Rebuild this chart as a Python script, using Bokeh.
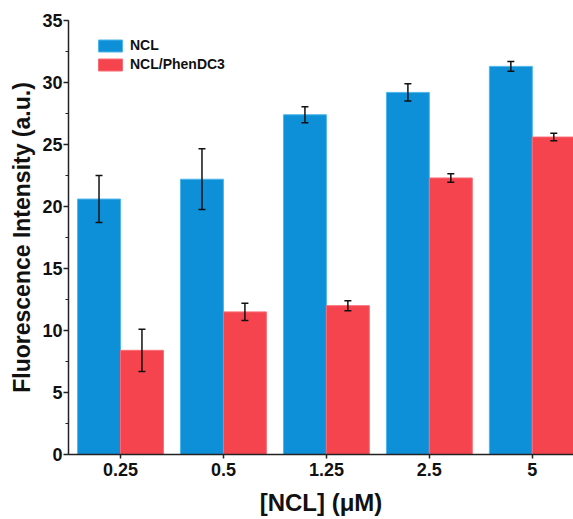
from bokeh.plotting import figure
from bokeh.models import (Range1d, FixedTicker, SingleIntervalTicker, Whisker, TeeHead,
                          ColumnDataSource, Legend, LegendItem)
from bokeh.embed import file_html
from bokeh.resources import INLINE

categories = ["0.25", "0.5", "1.25", "2.5", "5"]
ncl = [20.6, 22.2, 27.4, 29.2, 31.3]
ncl_err = [1.9, 2.45, 0.65, 0.7, 0.4]
phen = [8.4, 11.5, 12.0, 22.3, 25.6]
phen_err = [1.7, 0.7, 0.4, 0.35, 0.3]

BLUE = "#0e90d8"
RED = "#f6444f"
FONT = "Liberation Sans"
bar_w = 0.417
off = bar_w / 2

idx = list(range(len(categories)))
src_b = ColumnDataSource(dict(
    x=[i - off for i in idx], top=ncl,
    lo=[v - e for v, e in zip(ncl, ncl_err)], hi=[v + e for v, e in zip(ncl, ncl_err)]))
src_r = ColumnDataSource(dict(
    x=[i + off for i in idx], top=phen,
    lo=[v - e for v, e in zip(phen, phen_err)], hi=[v + e for v, e in zip(phen, phen_err)]))

p = figure(width=573, height=519, frame_width=505, frame_height=434,
           x_range=Range1d(-0.505, 4.40), y_range=Range1d(0, 35),
           min_border_left=68, min_border_right=0, min_border_top=20, min_border_bottom=65,
           output_backend="svg", toolbar_location=None)
p.outline_line_color = None
p.xgrid.grid_line_color = None
p.ygrid.grid_line_color = None
p.background_fill_color = "white"
p.border_fill_color = "white"

rb = p.vbar(x="x", top="top", bottom=0, width=bar_w, source=src_b,
            fill_color=BLUE, line_color="#4fb6ea", line_width=1)
rr = p.vbar(x="x", top="top", bottom=0, width=bar_w, source=src_r,
            fill_color=RED, line_color="#f86b73", line_width=1)

for src in (src_b, src_r):
    w = Whisker(base="x", lower="lo", upper="hi", source=src,
                line_color="#111111", line_width=1.5, level="annotation",
                upper_head=TeeHead(size=7, line_width=1.5, line_color="#111111"),
                lower_head=TeeHead(size=7, line_width=1.5, line_color="#111111"))
    p.add_layout(w)

# axes
yax = p.yaxis[0]
yax.ticker = SingleIntervalTicker(interval=5, num_minor_ticks=2)
yax.major_tick_out = 5
yax.major_tick_in = 0
yax.minor_tick_out = 3
yax.minor_tick_in = 0
yax.axis_line_width = 1.5
yax.axis_line_color = "#222222"
yax.major_tick_line_color = "#222222"
yax.minor_tick_line_color = "#222222"
yax.major_tick_line_width = 1.5
yax.minor_tick_line_width = 1.2
yax.major_label_text_font = FONT
yax.major_label_text_font_style = "bold"
yax.major_label_text_font_size = "18px"
yax.major_label_text_color = "#111111"
yax.major_label_standoff = 1
yax.axis_label = "Fluorescence Intensity (a.u.)"
yax.axis_label_text_font = FONT
yax.axis_label_text_font_style = "bold"
yax.axis_label_text_font_size = "23px"
yax.axis_label_text_color = "#111111"
yax.axis_label_standoff = 4

xax = p.xaxis[0]
xax.ticker = FixedTicker(ticks=idx, minor_ticks=[])
xax.major_label_overrides = {i: c for i, c in zip(idx, categories)}
xax.major_tick_out = 4
xax.major_tick_in = 0
xax.minor_tick_out = 0
xax.minor_tick_in = 0
xax.major_tick_line_width = 1.5
xax.major_tick_line_color = "#222222"
xax.axis_line_width = 1.5
xax.axis_line_color = "#222222"
xax.major_label_text_font = FONT
xax.major_label_text_font_style = "bold"
xax.major_label_text_font_size = "18px"
xax.major_label_text_color = "#111111"
xax.major_label_standoff = 4
xax.axis_label = "[NCL] (\u03bcM)"
xax.axis_label_text_font = FONT
xax.axis_label_text_font_style = "bold"
xax.axis_label_text_font_size = "24px"
xax.axis_label_text_color = "#111111"
xax.axis_label_standoff = 10

legend = Legend(items=[LegendItem(label="NCL", renderers=[rb]),
                       LegendItem(label="NCL/PhenDC3", renderers=[rr])],
                location=(27, 382), margin=0, padding=0, spacing=3,
                glyph_width=30, glyph_height=15, label_height=15,
                label_standoff=5,
                label_text_font=FONT, label_text_font_style="bold",
                label_text_font_size="14px", label_text_color="#111111",
                border_line_color=None, background_fill_alpha=0)
p.add_layout(legend, "center")

open("out.html", "w").write(file_html(p, INLINE))
